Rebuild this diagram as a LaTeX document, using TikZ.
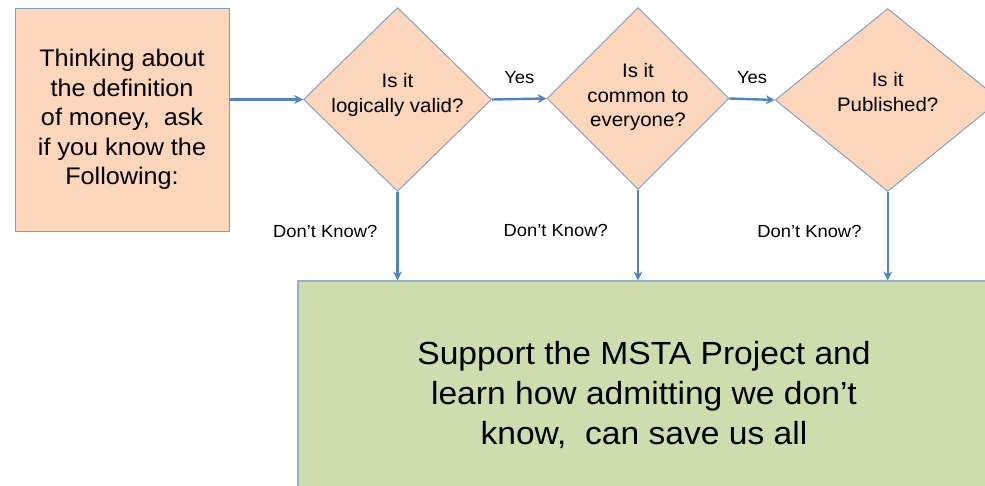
\documentclass[tikz,border=0pt]{standalone}
\usepackage{fontspec}
\setmainfont[FakeStretch=1.05]{Liberation Sans}
\usetikzlibrary{arrows.meta,shapes.geometric}
\tikzset{>/.tip={Stealth[length=9pt,width=9pt,inset=3pt]}}
\definecolor{peach}{RGB}{251,214,186}
\definecolor{sage}{RGB}{205,221,174}
\definecolor{rim}{RGB}{124,156,198}
\definecolor{flow}{RGB}{82,132,192}
\tikzset{
  startbox/.style={draw=rim,fill=peach,line width=0.9pt,align=center,
    font=\fontsize{24}{29.5}\selectfont},
  question/.style={diamond,draw=rim,fill=peach,line width=0.9pt,inner sep=0pt},
  asktext/.style={align=center,inner sep=0pt,font=\fontsize{19.5}{24.5}\selectfont},
  goalbox/.style={draw=rim!80,fill=sage,line width=1.2pt,align=center,
    font=\fontsize{32}{40}\selectfont},
  flowline/.style={->,draw=flow,line width=2.4pt},
  answer/.style={inner sep=2pt,font=\fontsize{17.5}{20}\selectfont}
}
\begin{document}
\begin{tikzpicture}[x=1pt,y=-1pt]
        \clip (0,0) rectangle (985,486);
        \node(start)[startbox,minimum width=214pt,minimum height=223pt] at (122,119.5)
          {Thinking about\\the definition\\of money,~ ask\\if you know the\\Following:};
        \node(valid)[question,minimum width=188pt,minimum height=184pt] at (397.5,99.5) {};
        \node(common)[question,minimum width=182pt,minimum height=182pt] at (638,98.5) {};
        \node(pub)[question,minimum width=225pt,minimum height=183pt] at (887.7,100) {};
        \node(validtext)[asktext] at (397.5,95) {Is it\\logically valid?};
        \node(commontext)[asktext] at (638,97) {Is it\\common to\\everyone?};
        \node(pubtext)[asktext] at (887.7,92) {Is it\\Published?};
        \node(goal)[goalbox,minimum width=692pt,minimum height=228pt] at (644,395)
          {Support the MSTA Project and\\learn how admitting we don’t\\know,~ can save us all};
        % across: the questions in turn
        \draw[flowline] (start.east |- valid.west) -- (valid.west);
        \draw[flowline] (valid.east) -- node[answer,above=12pt]{Yes} (common.west);
        \draw[flowline] (common.east) -- node[answer,above=12pt]{Yes} (pub.west);
        % down: not knowing leads to the project
        \draw[flowline] (valid.south) -- node[answer,pos=0.45,left=17pt]{Don’t Know?} (valid.south |- goal.north);
        \draw[flowline] (common.south) -- node[answer,pos=0.45,left=27pt]{Don’t Know?} (common.south |- goal.north);
        \draw[flowline] (pub.south) -- node[answer,pos=0.45,left=23pt]{Don’t Know?} (pub.south |- goal.north);
\end{tikzpicture}
\end{document}
